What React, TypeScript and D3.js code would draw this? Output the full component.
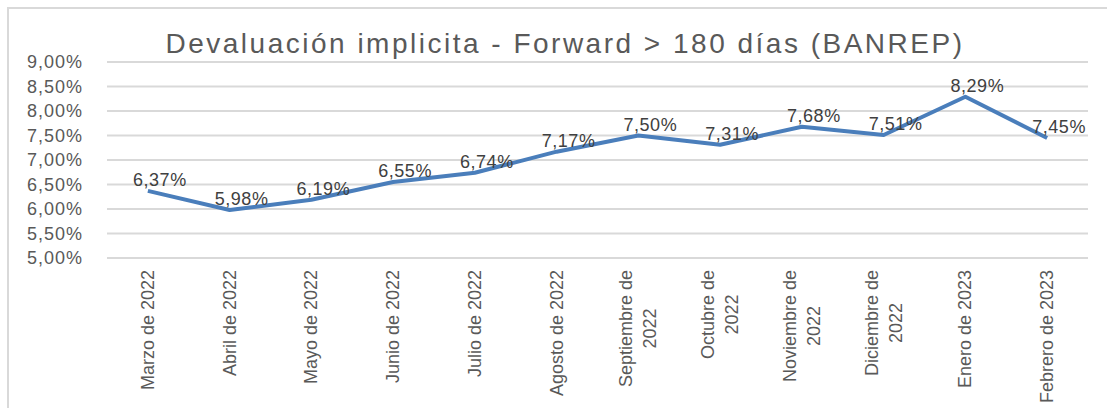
import React, { useEffect, useRef } from 'react'
import * as d3 from 'd3'

const months = [
    'Marzo de 2022', 'Abril de 2022', 'Mayo de 2022', 'Junio de 2022', 'Julio de 2022', 'Agosto de 2022',
    'Septiembre de\n2022', 'Octubre de\n2022', 'Noviembre de\n2022', 'Diciembre de\n2022',
    'Enero de 2023', 'Febrero de 2023',
]
const devaluation = [0.0637, 0.0598, 0.0619, 0.0655, 0.0674, 0.0717, 0.075, 0.0731, 0.0768, 0.0751, 0.0829, 0.0745]
const yTicks = [0.05, 0.055, 0.06, 0.065, 0.07, 0.075, 0.08, 0.085, 0.09]
const title = 'Devaluación implicita - Forward > 180 días (BANREP)'

const W = 1107
const H = 408
const FONT = '"Liberation Sans", Arial, sans-serif'

const App: React.FC = () => {
    const svgRef = useRef<SVGSVGElement>(null)

    useEffect(() => {
        if (!svgRef.current) return
        const svg = d3.select(svgRef.current)
        svg.selectAll('*').remove()

        const plot = { left: 107, right: 1088, top: 62, bottom: 258 }
        const x = d3.scaleBand().domain(months).range([plot.left, plot.right])
        const y = d3.scaleLinear().domain([0.05, 0.09]).range([plot.bottom, plot.top])
        const pct = d3.formatLocale({ decimal: ',', thousands: '.', grouping: [3], currency: ['', ''] }).format('.2%')
        const cx = (m: string) => (x(m) ?? 0) + x.bandwidth() / 2

        // frame
        svg.append('rect')
            .attr('x', 8).attr('y', 8).attr('width', W).attr('height', H)
            .attr('fill', '#fff').attr('stroke', '#d9d9d9').attr('stroke-width', 2)

        // title
        svg.append('text')
            .attr('x', 565).attr('y', 53)
            .attr('text-anchor', 'middle')
            .style('font-family', FONT).style('font-size', '28px').style('letter-spacing', '2.5px')
            .style('fill', '#595959')
            .text(title)

        // grid + y labels
        svg.append('g').selectAll('line')
            .data(yTicks).enter().append('line')
            .attr('x1', plot.left).attr('x2', plot.right)
            .attr('y1', d => y(d)).attr('y2', d => y(d))
            .attr('stroke', '#d9d9d9').attr('stroke-width', 2)

        svg.append('g').selectAll('text')
            .data(yTicks).enter().append('text')
            .attr('x', 83).attr('y', d => y(d) + 6)
            .attr('text-anchor', 'end')
            .style('font-family', FONT).style('font-size', '18px').style('letter-spacing', '1px')
            .style('fill', '#595959')
            .text(d => pct(d))

        // x labels, rotated
        const xl = svg.append('g')
        months.forEach(m => {
            const lines = m.split('\n')
            const g = xl.append('g').attr('transform', `translate(${cx(m)},${plot.bottom + 12}) rotate(-90)`)
            const texts = lines.map((ln, i) => g.append('text')
                .attr('y', (i - (lines.length - 1) / 2) * 24 + 6)
                .style('font-family', FONT).style('font-size', '18px').style('fill', '#595959')
                .text(ln))
            const lens = texts.map(t => (t.node() as SVGTextElement).getComputedTextLength())
            const maxLen = Math.max(...lens)
            texts.forEach(t => t.attr('x', -maxLen / 2).attr('text-anchor', 'middle'))
        })

        // line
        const line = d3.line<number>()
            .x((_, i) => cx(months[i]))
            .y(d => y(d))
        svg.append('path')
            .datum(devaluation)
            .attr('d', line)
            .attr('fill', 'none').attr('stroke', '#4a7ebb').attr('stroke-width', 4)
            .attr('stroke-linejoin', 'round')

        // data labels
        svg.append('g').selectAll('text')
            .data(devaluation).enter().append('text')
            .attr('x', (_, i) => cx(months[i]) + 12)
            .attr('y', d => y(d) - 5)
            .attr('text-anchor', 'middle')
            .style('font-family', FONT).style('font-size', '18px').style('letter-spacing', '0.5px')
            .style('fill', '#404040')
            .text(d => pct(d))
    }, [])

    return (
        <div style={{ position: 'fixed', left: 0, top: 0 }}>
            <svg ref={svgRef} width={W} height={H} style={{ display: 'block' }} />
        </div>
    )
}

export default App
